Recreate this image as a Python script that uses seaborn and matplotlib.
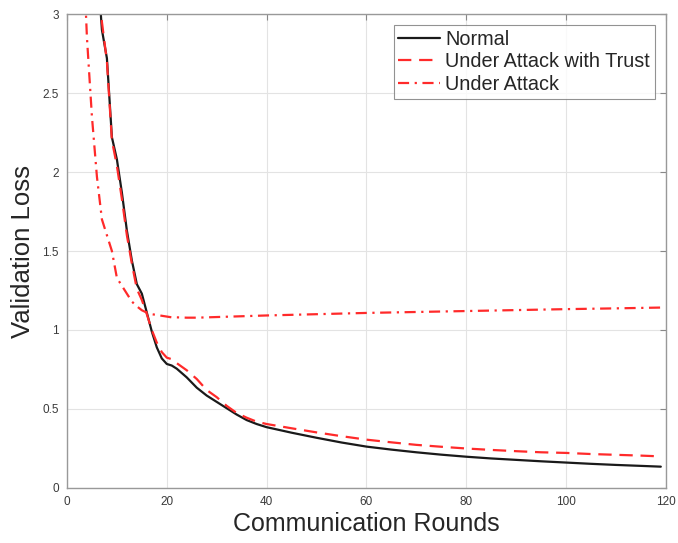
import pandas as pd
import matplotlib
matplotlib.use("Agg")
import matplotlib.pyplot as plt
import seaborn as sns

# values
rounds_normal = [6, 7, 8, 9, 10, 11, 12, 13, 14, 15, 16, 17, 18, 19, 20, 21, 22, 24, 26, 28,
                 30, 32, 34, 36, 38, 40, 45, 50, 55, 60, 65, 70, 75, 80, 85, 90, 95, 100,
                 105, 110, 115, 119]
loss_normal = [3.35, 2.9, 2.72, 2.22, 2.08, 1.87, 1.63, 1.44, 1.29, 1.23, 1.11, 0.99, 0.89,
               0.82, 0.785, 0.775, 0.755, 0.70, 0.635, 0.585, 0.545, 0.505, 0.465, 0.43,
               0.405, 0.385, 0.35, 0.318, 0.288, 0.262, 0.243, 0.226, 0.211, 0.198, 0.187,
               0.178, 0.169, 0.161, 0.153, 0.146, 0.14, 0.135]

rounds_trust = [6, 7, 8, 9, 10, 11, 12, 13, 14, 15, 16, 17, 18, 19, 20, 21, 22, 24, 26, 28,
                30, 32, 34, 36, 38, 40, 45, 50, 55, 60, 65, 70, 75, 80, 85, 90, 95, 100,
                105, 110, 115, 119]
loss_trust = [3.4, 2.95, 2.7, 2.2, 2.04, 1.83, 1.6, 1.42, 1.26, 1.19, 1.1, 1.0, 0.92, 0.86,
              0.825, 0.815, 0.79, 0.745, 0.69, 0.62, 0.575, 0.52, 0.475, 0.445, 0.42, 0.405,
              0.378, 0.352, 0.328, 0.306, 0.289, 0.273, 0.261, 0.25, 0.241, 0.233, 0.226,
              0.222, 0.215, 0.21, 0.205, 0.2]

rounds_attack = [3, 4, 5, 6, 7, 8, 9, 10, 11, 12, 13, 14, 15, 16, 17, 18, 19, 20, 21, 22,
                 24, 26, 28, 30, 35, 40, 50, 60, 70, 80, 90, 100, 110, 119]
loss_attack = [3.6, 2.85, 2.35, 1.97, 1.7, 1.6, 1.5, 1.33, 1.28, 1.23, 1.18, 1.15, 1.125,
               1.11, 1.1, 1.095, 1.09, 1.085, 1.08, 1.08, 1.078, 1.078, 1.08, 1.082, 1.087,
               1.092, 1.10, 1.108, 1.114, 1.12, 1.126, 1.132, 1.137, 1.142]

x_ticks = [0, 20, 40, 60, 80, 100, 120]
y_ticks = [0, 0.5, 1, 1.5, 2, 2.5, 3]
y_tick_labels = ['0', '0.5', '1', '1.5', '2', '2.5', '3']

sns.set_style("white")
plt.rcParams['font.family'] = ['Liberation Sans', 'DejaVu Sans']

fig = plt.figure(figsize=(6.78, 5.43), dpi=100)
ax = fig.add_axes([0.0988, 0.1013, 0.8832, 0.8729])

sns.lineplot(x=rounds_normal, y=loss_normal, ax=ax, color='#1a1a1a', linewidth=1.6,
             label='Normal')
sns.lineplot(x=rounds_trust, y=loss_trust, ax=ax, color='#ff2a2a', linewidth=1.6,
             linestyle=(0, (6, 3.5)), label='Under Attack with Trust')
sns.lineplot(x=rounds_attack, y=loss_attack, ax=ax, color='#ff2a2a', linewidth=1.6,
             linestyle=(0, (5, 2.5, 1, 2.5)), label='Under Attack')

ax.set_xlim(0, 120)
ax.set_ylim(0, 3)
ax.set_xticks(x_ticks)
ax.set_yticks(y_ticks)
ax.set_yticklabels(y_tick_labels)
ax.grid(True, color='#e3e3e3', linewidth=0.8)
ax.set_axisbelow(True)
ax.tick_params(direction='in', length=4, width=0.8, colors='#888888', labelsize=8.5,
               labelcolor='#3a3a3a', top=True, right=True, pad=6)
for s in ax.spines.values():
    s.set_color('#999999')
    s.set_linewidth(1.0)

ax.set_xlabel('Communication Rounds', fontsize=18, color='#262626', labelpad=3)
ax.set_ylabel('Validation Loss', fontsize=18.5, color='#262626', labelpad=5)

leg = ax.legend(loc='upper right', fontsize=14.3, frameon=True, fancybox=False,
                edgecolor='#777777', handlelength=2.1, labelspacing=0.17,
                borderpad=0.25, handletextpad=0.25, borderaxespad=0.55)
leg.get_frame().set_linewidth(0.8)

fig.savefig('out.png', dpi=100, facecolor='white')
